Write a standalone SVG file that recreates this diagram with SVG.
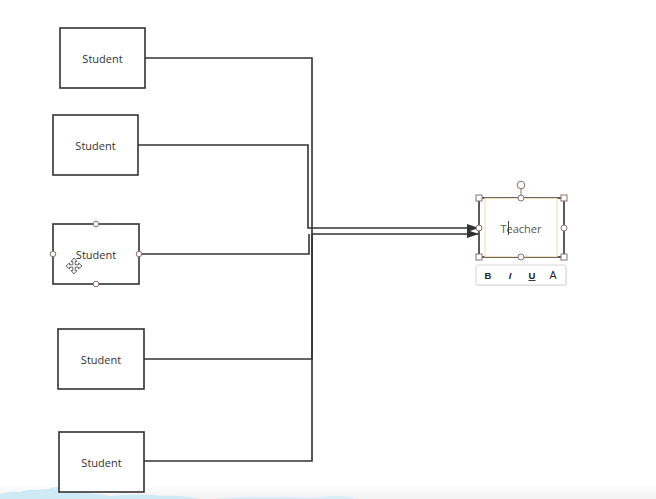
<svg xmlns="http://www.w3.org/2000/svg" width="656" height="499" viewBox="0 0 656 499">
<style>
.box{fill:#fff;stroke:#333;stroke-width:1.6}
.lbl{font-family:"Open Sans","Noto Sans",sans-serif;font-size:11px;fill:#333;text-anchor:middle;dominant-baseline:central}
.con{fill:none;stroke:#333;stroke-width:1.6}
.hc{fill:#fff;stroke:#8a7070;stroke-width:1}
.tb{font-family:"Liberation Sans",sans-serif;font-size:9.5px;font-weight:bold;fill:#222;text-anchor:middle}
</style>
<defs>
<marker id="ah" markerWidth="12" markerHeight="8" refX="11" refY="4" orient="auto" markerUnits="userSpaceOnUse">
<path d="M0,0 L12,4 L0,8 Z" fill="#333"/>
</marker>
<linearGradient id="bg" x1="0" y1="0" x2="0" y2="1">
<stop offset="0" stop-color="#fff"/>
<stop offset="1" stop-color="#f2f2f2"/>
</linearGradient>
</defs>
<rect width="656" height="499" fill="#fff"/>
<rect x="0" y="484" width="656" height="15" fill="url(#bg)"/>
<path d="M0,499 L0,494 Q10,491 20,492 Q28,489 35,490 L48,489 Q58,485 68,488 Q75,492 85,493 Q100,494 110,496 Q140,493 165,496 Q180,495 200,499 Z" fill="#cfe9f5"/>
<path d="M215,499 Q240,496 265,497 Q290,496 310,498 L320,497 Q335,495 350,497 L355,499 Z" fill="#d8eef8"/>

<g id="connectors">
<polyline class="con" points="145,58 312,58 312,234 478,234" marker-end="url(#ah)"/>
<polyline class="con" points="138,145 308,145 308,228 478,228" marker-end="url(#ah)"/>
<polyline class="con" points="139,254 309,254 309,234"/>
<polyline class="con" points="144,359 312,359 312,234"/>
<polyline class="con" points="144,461 312,461 312,234"/>
</g>

<g id="student1"><rect class="box" x="60" y="28" width="85" height="60"/><text class="lbl" x="102.5" y="58">Student</text></g>
<g id="student2"><rect class="box" x="53" y="115" width="85" height="60"/><text class="lbl" x="95.5" y="145">Student</text></g>
<g id="student3"><rect class="box" x="53" y="224" width="86" height="60"/><text class="lbl" x="96" y="254">Student</text>
<circle class="hc" cx="96" cy="224" r="2.8"/><circle class="hc" cx="96" cy="284" r="2.8"/><circle class="hc" cx="53" cy="254" r="2.8"/><circle class="hc" cx="139" cy="254" r="2.8"/>
<g id="move-cursor" transform="translate(74,266)">
<path d="M0,-8 L3,-4.5 L1.2,-4.5 L1.2,-1.2 L4.5,-1.2 L4.5,-3 L8,0 L4.5,3 L4.5,1.2 L1.2,1.2 L1.2,4.5 L3,4.5 L0,8 L-3,4.5 L-1.2,4.5 L-1.2,1.2 L-4.5,1.2 L-4.5,3 L-8,0 L-4.5,-3 L-4.5,-1.2 L-1.2,-1.2 L-1.2,-4.5 L-3,-4.5 Z" fill="#fff" stroke="#555" stroke-width="0.9"/>
</g>
</g>
<g id="student4"><rect class="box" x="58" y="329" width="86" height="60"/><text class="lbl" x="101" y="359">Student</text></g>
<g id="student5"><rect class="box" x="59" y="432" width="85" height="60"/><text class="lbl" x="101.5" y="462">Student</text></g>

<g id="teacher">
<rect class="box" x="479" y="198" width="85" height="59"/>
<rect x="485" y="198.5" width="72" height="58" fill="none" stroke="#f3e2bd" stroke-width="1.2"/>
<text class="lbl" x="521" y="228" style="fill:#555">Teacher</text>
<line x1="508.5" y1="221" x2="508.5" y2="235" stroke="#333" stroke-width="0.9"/>
<line x1="521" y1="189" x2="521" y2="198" stroke="#8a7070" stroke-width="1"/>
<circle class="hc" cx="521" cy="185" r="3.8"/>
<rect class="hc" x="476" y="195" width="6" height="6"/><rect class="hc" x="561" y="195" width="6" height="6"/>
<rect class="hc" x="476" y="254" width="6" height="6"/><rect class="hc" x="561" y="254" width="6" height="6"/>
<circle class="hc" cx="521" cy="198" r="3"/><circle class="hc" cx="521" cy="257" r="3"/>
<circle class="hc" cx="479" cy="228" r="3"/><circle class="hc" cx="564" cy="228" r="3"/>
</g>

<g id="toolbar">
<rect x="477" y="266" width="90" height="20" rx="1.5" fill="#e6e6e6"/>
<rect x="476" y="265" width="90" height="20" rx="1.5" fill="#fff" stroke="#d6d6d6" stroke-width="1"/>
<text class="tb" x="488" y="278.5">B</text>
<text class="tb" x="510" y="278.5" font-style="italic">I</text>
<text class="tb" x="532" y="278.5">U</text>
<line x1="528.5" y1="280.5" x2="535.5" y2="280.5" stroke="#222" stroke-width="0.9"/>
<text class="tb" x="553" y="278.5" style="font-weight:normal;font-size:10.5px">A</text>
</g>
</svg>
